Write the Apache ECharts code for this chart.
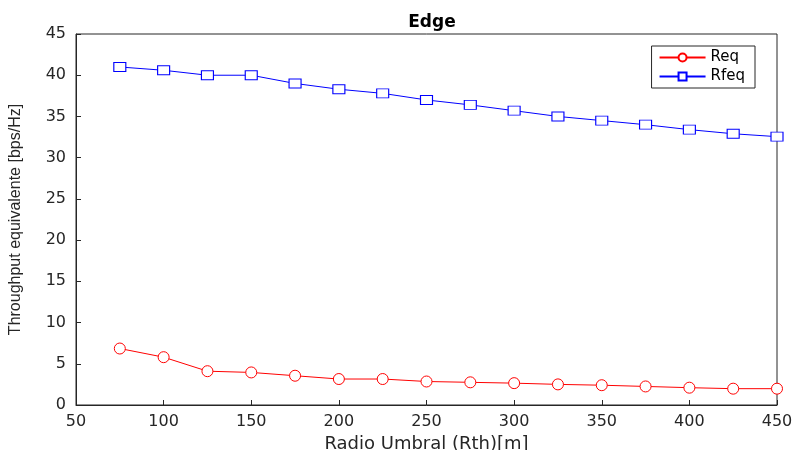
<!DOCTYPE html>
<html>
<head>
<meta charset="utf-8">
<script src="https://cdn.jsdelivr.net/npm/echarts@6/dist/echarts.min.js"></script>
<style>
  html,body{margin:0;padding:0;background:#fff;}
  #chart{width:792px;height:450px;}
</style>
</head>
<body>
<div id="chart"></div>
<script>
// radio umbral (m)
const radio = [75,100,125,150,175,200,225,250,275,300,325,350,375,400,425,450];
// throughput values
const req  = [6.85,5.8,4.1,3.95,3.55,3.15,3.15,2.85,2.75,2.65,2.5,2.4,2.25,2.1,1.98,1.98];
const rfeq = [41.0,40.6,40.0,40.0,39.0,38.3,37.8,37.0,36.4,35.7,35.0,34.5,34.0,33.4,32.9,32.55];
const xTicks = [50,100,150,200,250,300,350,400,450];

const chart = echarts.init(document.getElementById('chart'));
const font = 'DejaVu Sans';

const pair = (xs, ys) => xs.map((x,i) => [x, ys[i]]);

const axisCommon = {
  axisLine:{show:true, onZero:false, lineStyle:{color:'#262626', width:1}},
  axisTick:{show:true, inside:true, length:5, lineStyle:{color:'#262626'}},
  splitLine:{show:false},
  axisLabel:{color:'#262626', fontFamily:font, fontSize:16}
};

chart.setOption({
  animation:false,
  title:{
    text:'Edge', left:427, top:9, textAlign:'center',
    textStyle:{fontFamily:font, fontWeight:'bold', fontSize:17, color:'#000'}
  },
  legend:{
    orient:'vertical', right:37, top:46,
    padding:[4,10,4,7], itemGap:4,
    itemWidth:46, itemHeight:10,
    borderColor:'#262626', borderWidth:1, backgroundColor:'#fff',
    textStyle:{fontFamily:font, fontSize:15, color:'#000'},
    data:['Req','Rfeq']
  },
  grid:{left:76, right:15, top:34, bottom:45, outerBoundsMode:'none',
    show:true, borderColor:'#262626', borderWidth:1},
  xAxis:Object.assign({}, axisCommon, {
    type:'value', min:50, max:450, interval:50,
    name:'Radio Umbral (Rth)[m]', nameLocation:'middle', nameGap:27,
    nameTextStyle:{fontFamily:font, fontSize:18, color:'#262626'},
    axisLabel:Object.assign({}, axisCommon.axisLabel, {margin:9,
      formatter: v => xTicks.indexOf(v) >= 0 ? String(v) : ''})
  }),
  yAxis:Object.assign({}, axisCommon, {
    type:'value', min:0, max:45, interval:5,
    name:'Throughput equivalente [bps/Hz]', nameLocation:'middle', nameGap:52,
    nameTextStyle:{fontFamily:'Liberation Sans', fontSize:16, color:'#262626'},
    axisLabel:Object.assign({}, axisCommon.axisLabel, {margin:10})
  }),
  tooltip:{show:false},
  series:[
    {
      name:'Req', type:'line', data:pair(radio, req),
      symbol:'circle', symbolSize:11, emphasis:{disabled:true}, silent:true,
      itemStyle:{color:'#fff', borderColor:'#ff0000', borderWidth:1},
      lineStyle:{color:'#ff0000', width:1}
    },
    {
      name:'Rfeq', type:'line', data:pair(radio, rfeq),
      symbol:'rect', symbolSize:[12,9], emphasis:{disabled:true}, silent:true,
      itemStyle:{color:'#fff', borderColor:'#0000ff', borderWidth:1},
      lineStyle:{color:'#0000ff', width:1}
    }
  ]
});
</script>
</body>
</html>
